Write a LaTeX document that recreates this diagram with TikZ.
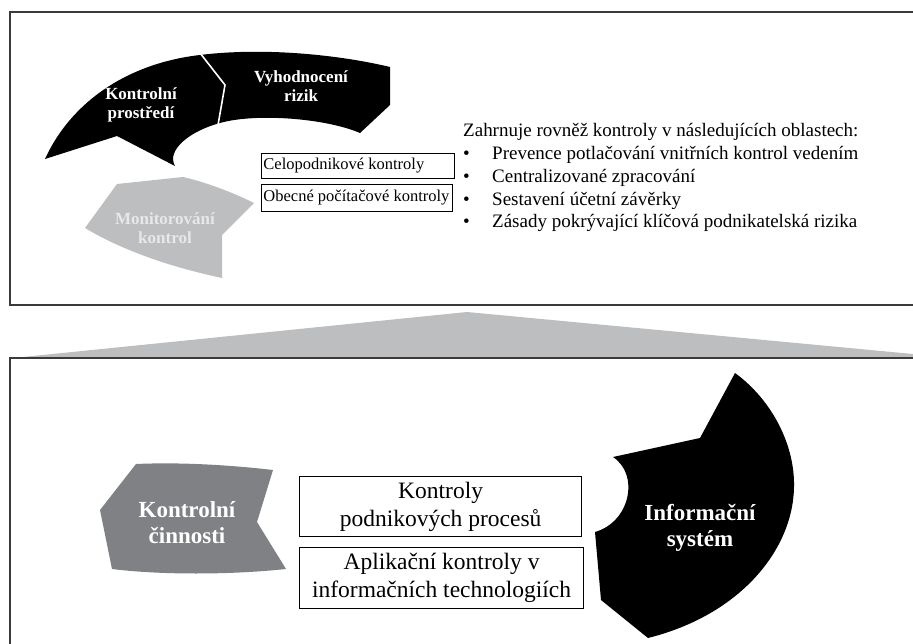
\documentclass[tikz,border=0pt]{standalone}
\usepackage{fontspec}
\setmainfont{Liberation Serif}
\definecolor{paleGray}{HTML}{BDBEC0}
\definecolor{midGray}{HTML}{7F8184}
\definecolor{paleText}{HTML}{E8E8E9}
\definecolor{frameGray}{HTML}{3A3A3A}
\begin{document}
\begin{tikzpicture}[x=1pt,y=-1pt,
  frame/.style={draw=frameGray, line width=1.3pt},
  smallbox/.style={draw=black, line width=0.9pt, inner xsep=2pt, inner ysep=0pt,
    font=\fontsize{16.5}{19}\selectfont, anchor=north west},
  bigbox/.style={draw=black, line width=1.2pt, inner sep=0pt, align=center,
    font=\fontsize{23.5}{28}\selectfont, anchor=north west},
  smalllabel/.style={inner sep=0pt, align=center, font=\fontsize{17}{18.5}\selectfont\bfseries},
  biglabel/.style={inner sep=0pt, align=center, font=\fontsize{23}{26}\selectfont\bfseries},
  listtext/.style={inner sep=0pt, anchor=base west, font=\fontsize{19}{22.7}\selectfont}]
\useasboundingbox (0,0) rectangle (913,644);

% upper panel frame
\draw[frame] (913,12) -- (10,12) -- (10,305) -- (913,305);

% wedge joining the two panels
\fill[paleGray] (13,358) -- (467,312) -- (913,354) -- (913,358) -- cycle;

% lower panel frame
\draw[frame] (913,358) -- (10,358) -- (10,646);

% ---- upper panel: control cycle ----
% control environment + risk assessment arc
\fill[black] (45,159) .. controls (72,100) and (130,63) .. (200,55)
  .. controls (265,47) and (340,55) .. (390,67)
  -- (390,105) -- (360,133)
  .. controls (325,118) and (255,113) .. (220,123)
  .. controls (190,131) and (166,150) .. (175,166)
  -- (117,136) -- cycle;
\draw[white, line width=1.6pt] (200,53) -- (225,85) -- (218,125);

% monitoring segment
\fill[paleGray] (117,184) -- (183,177) .. controls (205,182) and (232,192) .. (254,203)
  -- (222,235) -- (222,278) .. controls (175,268) and (125,252) .. (85,228) -- cycle;

\node[smalllabel, text=white] (env) at (141,105) {Kontrolní\\prostředí};
\node[smalllabel, text=white] (risk) at (301,86) {Vyhodnocení\\rizik};
\node[smalllabel, text=paleText] (monitor) at (165,228) {Monitorování\\kontrol};

\node[smallbox, minimum height=25pt] (entity) at (261,153) {\makebox[189pt][l]{Celopodnikové kontroly}};
\node[smallbox, minimum height=27pt] (itgc) at (261,184) {\makebox[187pt][l]{Obecné počítačové kontroly}};

\node[listtext] (intro) at (463,137) {Zahrnuje rovněž kontroly v následujících oblastech:};
\node[listtext] (item1) at (463,159.7) {\makebox[29pt][l]{•}Prevence potlačování vnitřních kontrol vedením};
\node[listtext] (item2) at (463,182.4) {\makebox[29pt][l]{•}Centralizované zpracování};
\node[listtext] (item3) at (463,205.1) {\makebox[29pt][l]{•}Sestavení účetní závěrky};
\node[listtext] (item4) at (463,227.8) {\makebox[29pt][l]{•}Zásady pokrývající klíčová podnikatelská rizika};

% ---- lower panel ----
% control activities
\fill[midGray] (136,464) .. controls (180,462) and (230,465) .. (273,470)
  -- (257,522) -- (286,569) .. controls (230,575) and (160,575) .. (112,569)
  -- (100,510) -- cycle;
\node[biglabel, text=white] (activities) at (187,523) {Kontrolní\\činnosti};

% information system
\fill[black] (735,373) .. controls (772,400) and (795,445) .. (794,487)
  .. controls (793,550) and (740,615) .. (648,638)
  -- (601,600) -- (595,532)
  .. controls (630,522) and (640,475) .. (613,457)
  -- (700,438) -- cycle;
\node[biglabel, text=white] (infosys) at (700,528) {Informační\\systém};

\node[bigbox, minimum width=282pt, minimum height=60pt] (process) at (299,476) {Kontroly\\podnikových procesů};
\node[bigbox, minimum width=284pt, minimum height=61pt] (appctl) at (299,547) {Aplikační kontroly v\\informačních technologiích};
\end{tikzpicture}
\end{document}
